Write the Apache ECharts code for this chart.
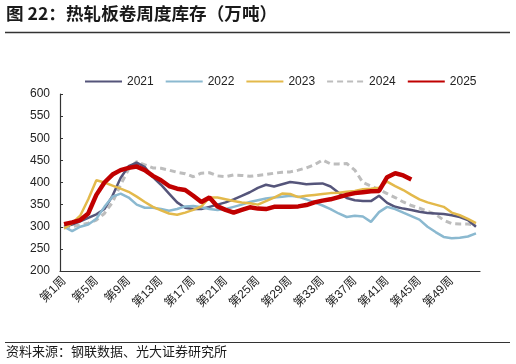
<!DOCTYPE html>
<html><head><meta charset="utf-8">
<script src="https://cdn.jsdelivr.net/npm/echarts@6/dist/echarts.min.js"></script>
<style>html,body{margin:0;padding:0;background:#fff}#c{width:516px;height:364px}</style>
</head><body><div id="c"></div>
<script>
var weeks = Array.from({length:52}, function(_, i){ return '第' + (i+1) + '周'; });
var yTicks = [200, 250, 300, 350, 400, 450, 500, 550, 600];
var s2021 = [300,305,312,320,328,340,370,410,437,445,435,412,395,375,355,343,340,340,345,350,355,362,370,378,388,395,391,396,401,399,396,397,398,391,377,365,360,358,358,370,354,345,341,338,334,331,330,329,326,322,315,300];
var s2022 = [300,290,300,305,318,345,368,375,366,350,343,343,340,336,340,346,347,344,340,338,340,345,350,356,360,364,366,368,370,368,362,355,348,340,330,322,325,323,311,333,345,340,332,324,316,300,288,277,274,275,278,285];
var s2023 = [296,308,325,362,405,400,393,386,379,368,356,345,337,330,327,332,338,346,366,366,362,358,355,353,350,358,366,375,374,367,370,372,374,376,377,379,381,385,386,388,402,392,383,372,362,355,350,345,332,326,318,308];
var s2024 = [297,300,304,308,315,330,355,395,430,447,440,433,432,428,423,420,413,421,422,415,413,417,416,414,416,418,421,423,424,428,433,440,451,442,442,443,428,400,392,384,375,366,356,348,342,335,328,315,307,306,306,304];
var s2025 = [306,310,315,330,372,400,418,428,433,436,428,415,405,392,386,383,370,356,366,346,338,332,338,344,341,340,345,345,345,346,349,355,359,362,367,372,376,378,380,381,412,421,416,407];
var seriesNames = ['2021','2022','2023','2024','2025'];

var chart = echarts.init(document.getElementById('c'), null, {renderer:'canvas'});
var FONT = '"Liberation Sans", Arial, "Noto Sans CJK SC", sans-serif';
function mk(name, data, color, width, type, z) {
  return {name:name, type:'line', data:data, symbol:'none', smooth:false, z:z,
    lineStyle:{color:color, width:width, type:type}, itemStyle:{color:color}};
}
chart.setOption({
  animation:false,
  grid:{left:60, right:36, top:94, bottom:93, containLabel:false},
  legend:{top:75.5, left:84, padding:0, itemWidth:37, itemHeight:10, itemGap:11,
    itemStyle:{opacity:0},
    textStyle:{fontSize:12, color:'#222', fontFamily:FONT},
    data:seriesNames},
  xAxis:{type:'category', data:weeks, boundaryGap:true,
    axisLine:{lineStyle:{color:'#333', width:1.2}},
    axisTick:{inside:true, length:3, interval:3, lineStyle:{color:'#333'}},
    axisLabel:{interval:3, rotate:45, fontSize:12, color:'#222', margin:8, fontFamily:FONT}},
  yAxis:{type:'value', min:yTicks[0], max:yTicks[yTicks.length-1], interval:50,
    splitLine:{show:false},
    axisLine:{show:true, lineStyle:{color:'#333', width:1.2}},
    axisTick:{show:true, inside:true, length:3, lineStyle:{color:'#333'}},
    axisLabel:{fontSize:12, color:'#222', margin:10, fontFamily:FONT}},
  series:[
    mk('2021', s2021, '#55557a', 2.5, 'solid', 2),
    mk('2022', s2022, '#8bb9d0', 2.5, 'solid', 3),
    mk('2023', s2023, '#e3b94b', 2.5, 'solid', 4),
    mk('2024', s2024, '#bdbdbd', 3, [6,4], 1),
    mk('2025', s2025, '#c00000', 4.5, 'solid', 5)
  ],
  graphic:[
    {type:'text', left:6, top:5, style:{text:'图 22：热轧板卷周度库存（万吨）', fontSize:17.6, fontWeight:'bold', fill:'#1a1a1a', fontFamily:'"Noto Sans CJK SC", sans-serif'}},
    {type:'line', shape:{x1:5, y1:32.5, x2:510, y2:32.5}, style:{stroke:'#333', lineWidth:1.5}},
    {type:'line', shape:{x1:5, y1:342.5, x2:510, y2:342.5}, style:{stroke:'#333', lineWidth:1.2}},
    {type:'text', left:6, top:345, style:{text:'资料来源：钢联数据、光大证券研究所', fontSize:13, fill:'#1a1a1a', fontFamily:'"Noto Sans CJK SC", sans-serif'}}
  ]
});
</script></body></html>
